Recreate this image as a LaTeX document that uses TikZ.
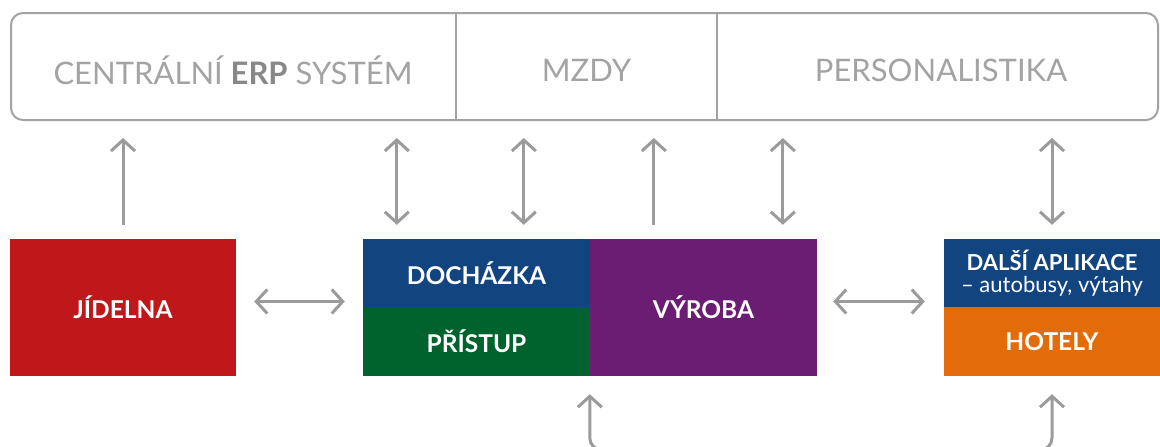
\documentclass[tikz,border=0pt]{standalone}
\usepackage{fontspec}
\setmainfont{Lato}
\usetikzlibrary{arrows.meta,positioning,calc}
\definecolor{sysGray}{HTML}{A3A3A3}
\definecolor{erpGray}{HTML}{888888}
\definecolor{arrGray}{HTML}{9B9B9B}
\definecolor{jidRed}{HTML}{C0171A}
\definecolor{dochBlue}{HTML}{12447F}
\definecolor{prisGreen}{HTML}{00632E}
\definecolor{vyrPurple}{HTML}{6A1D72}
\definecolor{hotOrange}{HTML}{E36C0A}
\begin{document}
\begin{tikzpicture}[x=1pt, y=-1pt,
    sysStyle/.style={rectangle, draw=sysGray, line width=2pt, rounded corners=12pt, inner sep=0pt},
    partStyle/.style={rectangle, inner sep=0pt, text=sysGray, font=\fontsize{31}{36}\selectfont},
    appStyle/.style={rectangle, inner sep=0pt, text=white, font=\bfseries\fontsize{24.5}{28}\selectfont},
    arrStyle/.style={draw=arrGray, line width=3pt, {Straight Barb[length=11pt, width=24pt]}-{Straight Barb[length=11pt, width=24pt]}},
    upStyle/.style={draw=arrGray, line width=3pt, -{Straight Barb[length=11pt, width=24pt]}}]
    \useasboundingbox (0,0) rectangle (1160,447);

    \node[sysStyle, minimum width=1147pt, minimum height=107pt] (sys) at (584.5, 66.5) {};
    \node[partStyle, minimum width=446pt] (erp)  at (233,   70) {CENTRÁLNÍ \textcolor{erpGray}{\bfseries ERP} SYSTÉM};
    \node[partStyle, minimum width=261pt] (mzdy) at (586.5, 70) {MZDY};
    \node[partStyle, minimum width=441pt] (pers) at (941,   70) {PERSONALISTIKA};
    \coordinate (sys_D0) at (456, 0);
    \coordinate (sys_D1) at (717, 0);
    \draw[sysGray, line width=2pt] (sys_D0 |- sys.north) -- (sys_D0 |- sys.south);
    \draw[sysGray, line width=2pt] (sys_D1 |- sys.north) -- (sys_D1 |- sys.south);

    \node[appStyle, fill=jidRed,    minimum width=226pt, minimum height=137pt] (jid)   at (123,    307.5) {JÍDELNA};
    \node[appStyle, fill=dochBlue,  minimum width=227pt, minimum height=68pt]  (doch)  at (476.5,  273)   {DOCHÁZKA};
    \node[appStyle, fill=prisGreen, minimum width=227pt, minimum height=69pt]  (pris)  at (476.5,  341.5) {PŘÍSTUP};
    \node[appStyle, fill=vyrPurple, minimum width=227pt, minimum height=137pt] (vyr)   at (703.5,  307.5) {VÝROBA};
    \node[appStyle, fill=dochBlue,  minimum width=216pt, minimum height=68pt, align=center, font=\bfseries\fontsize{22}{25}\selectfont] (dalsi) at (1052, 273)
        {DALŠÍ APLIKACE\\[-3pt]{\mdseries – autobusy, výtahy}};
    \node[appStyle, fill=hotOrange, minimum width=216pt, minimum height=69pt]  (hot)   at (1052,   341.5) {HOTELY};

    \coordinate (doch_A0) at ([xshift=34pt]doch.north west);
    \coordinate (doch_A1) at ([xshift=161pt]doch.north west);
    \coordinate (vyr_A0)  at ([xshift=64pt]vyr.north west);
    \coordinate (vyr_A1)  at ([xshift=193pt]vyr.north west);
    \coordinate (loop_B)  at (820, 450);

    \draw[upStyle,  shorten <=14pt, shorten >=17pt] (jid.north) -- (jid.north |- sys.south);
    \draw[arrStyle, shorten <=14pt, shorten >=17pt] (doch_A0) -- (doch_A0 |- sys.south);
    \draw[arrStyle, shorten <=14pt, shorten >=17pt] (doch_A1) -- (doch_A1 |- sys.south);
    \draw[upStyle,  shorten <=14pt, shorten >=17pt] (vyr_A0) -- (vyr_A0 |- sys.south);
    \draw[arrStyle, shorten <=14pt, shorten >=17pt] (vyr_A1) -- (vyr_A1 |- sys.south);
    \draw[arrStyle, shorten <=14pt, shorten >=17pt] (dalsi.north) -- (dalsi.north |- sys.south);

    \draw[arrStyle, shorten <=18pt, shorten >=18pt] ([yshift=6pt]jid.east) -- ([yshift=6pt]jid.east -| doch.west);
    \draw[arrStyle, shorten <=16pt, shorten >=19pt] ([yshift=6pt]vyr.east) -- ([yshift=6pt]vyr.east -| dalsi.west);

    \draw[arrStyle, rounded corners=12pt, shorten <=18pt, shorten >=18pt] (vyr.south west) |- (loop_B) -| (hot.south);
\end{tikzpicture}
\end{document}
